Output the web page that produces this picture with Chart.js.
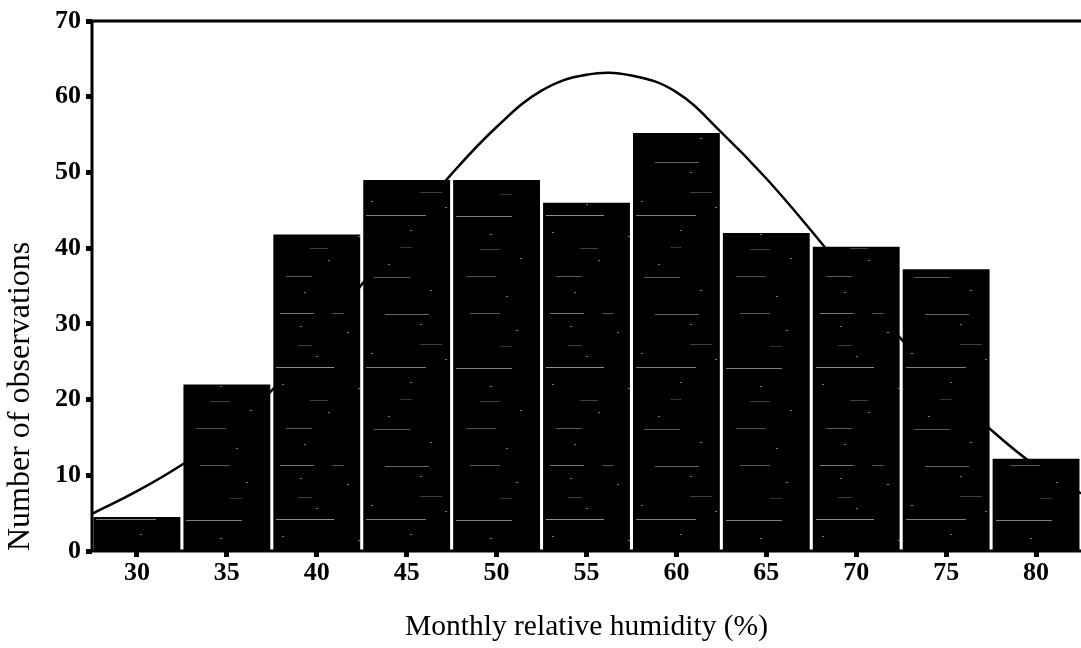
<!DOCTYPE html>
<html>
<head>
<meta charset="utf-8">
<script src="https://cdn.jsdelivr.net/npm/chart.js@4.4.1/dist/chart.umd.min.js"></script>
<style>
  html, body { margin: 0; padding: 0; background: #fff; }
  #wrap { width: 1081px; height: 648px; }
</style>
</head>
<body>
<div id="wrap"><canvas id="c" width="1081" height="648"></canvas></div>
<script>
// Histogram classes (bin centres, % relative humidity) and counts
const binCentres = [30, 35, 40, 45, 50, 55, 60, 65, 70, 75, 80];
const counts = [4.5, 22, 41.8, 49, 49, 46, 55.2, 42, 40.2, 37.2, 12.2];

// Fitted distribution curve, read along the humidity axis
const curveX = [27.5, 30, 32.5, 35, 37.5, 40, 42.5, 45, 47.5, 50, 52.5, 55, 57.5, 60, 62.5, 65, 67.5, 70, 72.5, 75, 77.5, 80, 82.5];
const curveY = [4.9, 7.9, 11.4, 15.6, 21.2, 27.9, 35.2, 42.6, 49.8, 56.0, 60.8, 62.9, 62.8, 60.6, 55.3, 49.2, 42.3, 35.0, 28.0, 21.6, 16.0, 11.2, 7.6];

// Axis ticks
const xTicks = [30, 35, 40, 45, 50, 55, 60, 65, 70, 75, 80];
const yTicks = [0, 10, 20, 30, 40, 50, 60, 70];

const barData = binCentres.map((x, i) => ({ x: x, y: counts[i] }));
const curveData = curveX.map((x, i) => ({ x: x, y: curveY[i] }));

const serif = '"Liberation Serif", "Times New Roman", Times, serif';

// Printed-halftone look for the bar fill: black with faint, broken light streaks
function streakPattern() {
  const w = 270, h = 152;
  const pc = document.createElement('canvas');
  pc.width = w; pc.height = h;
  const g = pc.getContext('2d');
  g.fillStyle = '#000';
  g.fillRect(0, 0, w, h);
  // [x, y, length, alpha]
  const streaks = [
    [10, 9, 34, 0.45], [62, 9, 12, 0.3], [115, 10, 44, 0.4], [200, 9, 30, 0.35],
    [28, 41, 14, 0.25], [150, 40, 22, 0.25], [230, 42, 12, 0.2],
    [6, 63, 58, 0.55], [96, 63, 60, 0.5], [186, 64, 56, 0.5],
    [40, 96, 18, 0.25], [130, 95, 12, 0.2], [210, 97, 20, 0.25],
    [16, 124, 26, 0.35], [104, 125, 36, 0.35], [196, 124, 30, 0.3]
  ];
  streaks.forEach(([x, y, l, a]) => {
    g.fillStyle = 'rgba(255,255,255,' + a + ')';
    g.fillRect(x, y, l, 1);
  });
  // sparse specks
  const specks = [[30, 22], [77, 28], [150, 20], [246, 26], [46, 52], [101, 49], [175, 55],
                  [12, 80], [88, 84], [140, 78], [220, 82], [58, 108], [118, 112], [250, 106],
                  [34, 140], [160, 138], [236, 144]];
  g.fillStyle = 'rgba(255,255,255,0.5)';
  specks.forEach(([x, y]) => g.fillRect(x, y, 2, 1));
  return g.createPattern(pc, 'repeat');
}

// Frame lines: left axis, top edge and baseline of the plotting area
const framePlugin = {
  id: 'frame',
  afterDatasetsDraw(chart) {
    const { ctx, chartArea: a } = chart;
    ctx.save();
    ctx.strokeStyle = '#000';
    ctx.lineWidth = 3;
    ctx.beginPath();
    ctx.moveTo(a.left, a.top);
    ctx.lineTo(a.right, a.top);
    ctx.moveTo(a.left, a.bottom);
    ctx.lineTo(a.right, a.bottom);
    ctx.moveTo(a.left, a.top);
    ctx.lineTo(a.left, a.bottom);
    ctx.stroke();
    ctx.restore();
  }
};

new Chart(document.getElementById('c'), {
  data: {
    datasets: [
      {
        type: 'bar',
        data: barData,
        backgroundColor: streakPattern(),
        borderWidth: 0,
        barPercentage: 0.966,
        categoryPercentage: 1.0,
        order: 0
      },
      {
        type: 'line',
        data: curveData,
        borderColor: '#000',
        borderWidth: 2.5,
        pointRadius: 0,
        tension: 0.4,
        fill: false,
        order: 1
      }
    ]
  },
  options: {
    responsive: false,
    animation: false,
    events: [],
    layout: { padding: { top: 21, right: 0, bottom: 0, left: 0 } },
    plugins: {
      legend: { display: false },
      tooltip: { enabled: false }
    },
    scales: {
      x: {
        type: 'linear',
        min: 27.5,
        max: 82.5,
        offset: false,
        afterBuildTicks(scale) { scale.ticks = xTicks.map(v => ({ value: v })); },
        afterFit(scale) { scale.height = 97; },
        grid: { offset: false, drawOnChartArea: false, drawTicks: true, tickLength: 6, tickWidth: 5, tickColor: '#000' },
        border: { display: false },
        ticks: {
          color: '#000',
          font: { family: serif, size: 26, weight: 'bold' },
          padding: 1,
          maxRotation: 0
        },
        title: {
          display: true,
          text: 'Monthly relative humidity (%)',
          color: '#000',
          font: { family: serif, size: 29.5 },
          padding: { top: 0, bottom: 3 }
        }
      },
      y: {
        type: 'linear',
        min: 0,
        max: 70,
        afterBuildTicks(scale) { scale.ticks = yTicks.map(v => ({ value: v })); },
        afterFit(scale) { scale.width = 92; },
        grid: { drawOnChartArea: false, drawTicks: true, tickLength: 6, tickWidth: 5, tickColor: '#000' },
        border: { display: false },
        ticks: {
          color: '#000',
          font: { family: serif, size: 26, weight: 'bold' },
          padding: 5
        },
        title: {
          display: true,
          text: 'Number of observations',
          align: 'start',
          color: '#000',
          font: { family: serif, size: 32 },
          padding: { top: 1, bottom: 0 }
        }
      }
    }
  },
  plugins: [framePlugin]
});
</script>
</body>
</html>
